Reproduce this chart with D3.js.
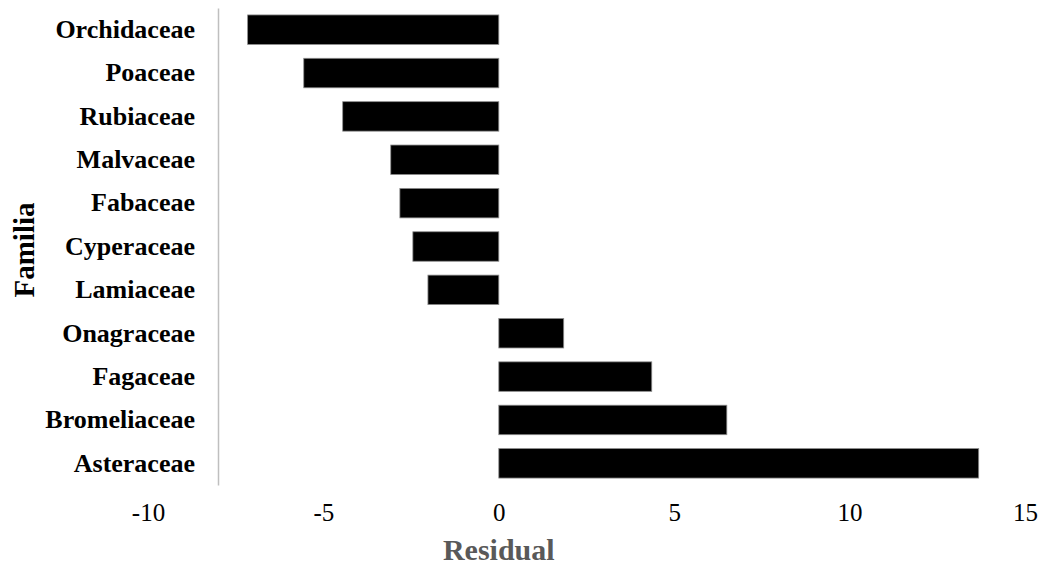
<!DOCTYPE html>
<html>
<head>
<meta charset="utf-8">
<script src="https://cdn.jsdelivr.net/npm/d3@7"></script>
<style>
  body { margin: 0; background: #fff; }
  svg { display: block; }
</style>
</head>
<body>
<svg id="chart" width="1038" height="569"></svg>
<script>
const families = ['Orchidaceae', 'Poaceae', 'Rubiaceae', 'Malvaceae', 'Fabaceae', 'Cyperaceae',
  'Lamiaceae', 'Onagraceae', 'Fagaceae', 'Bromeliaceae', 'Asteraceae'];
const residuals = [-7.16, -5.56, -4.45, -3.08, -2.82, -2.45, -2.02, 1.85, 4.36, 6.5, 13.68];
const xTicks = [-10, -5, 0, 5, 10, 15];

const data = families.map((f, i) => ({ family: f, value: residuals[i] }));

const svg = d3.select('#chart');
const serif = '"Liberation Serif", "Times New Roman", serif';

const x = d3.scaleLinear().domain([-10, 15]).range([148, 1025]);
const y = d3.scaleBand().domain(families).range([8, 485]).paddingInner(0.32).paddingOuter(0.16);

// barras
svg.append('g')
  .selectAll('rect')
  .data(data)
  .join('rect')
  .attr('x', d => x(Math.min(0, d.value)))
  .attr('y', d => y(d.family))
  .attr('width', d => Math.abs(x(d.value) - x(0)))
  .attr('height', y.bandwidth())
  .attr('fill', '#000')
  .attr('stroke', '#8c8c8c')
  .attr('stroke-width', 0.8);

// eje vertical (categorias)
const yAxis = svg.append('g')
  .attr('transform', 'translate(218,0)')
  .call(d3.axisLeft(y).tickSize(0).tickPadding(23));
yAxis.select('.domain').attr('stroke', '#bfbfbf').attr('stroke-width', 1.5);
yAxis.selectAll('text')
  .attr('font-family', serif)
  .attr('font-weight', 'bold')
  .attr('font-size', 26)
  .attr('fill', '#000');

// eje horizontal (valores)
const xAxis = svg.append('g')
  .attr('transform', 'translate(0,485)')
  .call(d3.axisBottom(x).tickValues(xTicks).tickSize(0).tickPadding(18).tickFormat(d3.format('d')));
xAxis.select('.domain').remove();
xAxis.selectAll('text')
  .attr('font-family', serif)
  .attr('font-size', 25)
  .attr('fill', '#000')
  .text(d => d < 0 ? '-' + Math.abs(d) : d);

// titulos de ejes
svg.append('text')
  .attr('x', x(0))
  .attr('y', 560)
  .attr('text-anchor', 'middle')
  .attr('font-family', serif)
  .attr('font-weight', 'bold')
  .attr('font-size', 30)
  .attr('fill', '#595959')
  .text('Residual');

svg.append('text')
  .attr('transform', 'translate(34,250) rotate(-90)')
  .attr('text-anchor', 'middle')
  .attr('font-family', serif)
  .attr('font-weight', 'bold')
  .attr('font-size', 29)
  .attr('fill', '#000')
  .text('Familia');
</script>
</body>
</html>
